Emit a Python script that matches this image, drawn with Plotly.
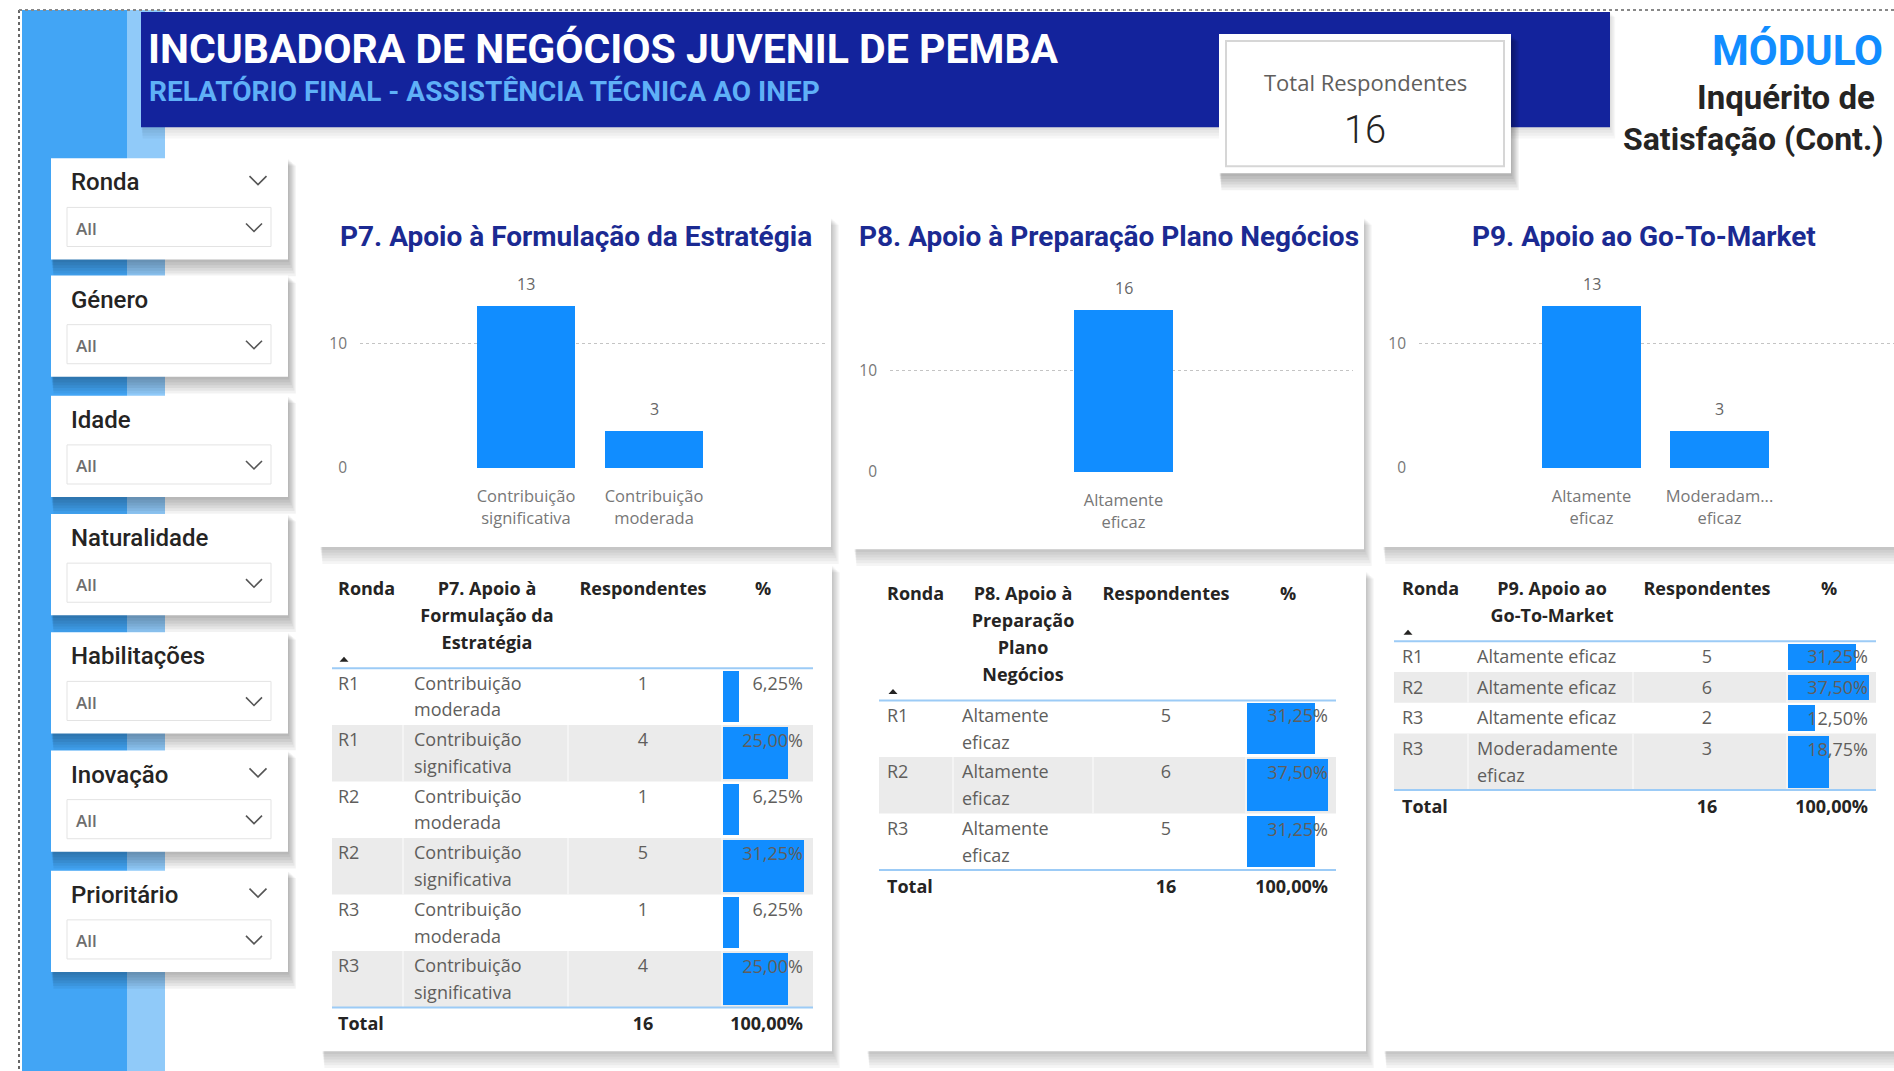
import plotly.graph_objects as go

W, H = 1894, 1071
# the photographed page comes out about 1.15 % shorter than the figure, so vertical
# positions are stretched by this factor to land where the reference has them
S = 1.0115

# ---------------- data ----------------
header_title = "INCUBADORA DE NEGÓCIOS JUVENIL DE PEMBA"
header_subtitle = "RELATÓRIO FINAL - ASSISTÊNCIA TÉCNICA AO INEP"
module_lines = ["MÓDULO", "Inquérito de", "Satisfação (Cont.)"]
kpi_label = "Total Respondentes"
kpi_value = 16

slicer_titles = ["Ronda", "Género", "Idade", "Naturalidade", "Habilitações", "Inovação", "Prioritário"]
slicer_has_title_chevron = [True, False, False, False, False, True, True]
slicer_value = "All"

p7_title = "P7. Apoio à Formulação da Estratégia"
p7_cats = ["Contribuição significativa", "Contribuição moderada"]
p7_ticks = ["Contribuição<br>significativa", "Contribuição<br>moderada"]
p7_vals = [13, 3]

p8_title = "P8. Apoio à Preparação Plano Negócios"
p8_cats = ["Altamente eficaz"]
p8_ticks = ["Altamente<br>eficaz"]
p8_vals = [16]

p9_title = "P9. Apoio ao Go-To-Market"
p9_cats = ["Altamente eficaz", "Moderadamente eficaz"]
p9_ticks = ["Altamente<br>eficaz", "Moderadam...<br>eficaz"]
p9_vals = [13, 3]

y_ticks = [0, 10]

t7_header = "P7. Apoio à Formulação da Estratégia"
t7_ronda = ["R1", "R1", "R2", "R2", "R3", "R3"]
t7_cat = ["Contribuição moderada", "Contribuição significativa", "Contribuição moderada",
          "Contribuição significativa", "Contribuição moderada", "Contribuição significativa"]
t7_resp = [1, 4, 1, 5, 1, 4]
t7_pct = [6.25, 25.00, 6.25, 31.25, 6.25, 25.00]

t8_header = "P8. Apoio à Preparação Plano Negócios"
t8_ronda = ["R1", "R2", "R3"]
t8_cat = ["Altamente eficaz", "Altamente eficaz", "Altamente eficaz"]
t8_resp = [5, 6, 5]
t8_pct = [31.25, 37.50, 31.25]

t9_header = "P9. Apoio ao Go-To-Market"
t9_ronda = ["R1", "R2", "R3", "R3"]
t9_cat = ["Altamente eficaz", "Altamente eficaz", "Altamente eficaz", "Moderadamente eficaz"]
t9_resp = [5, 6, 2, 3]
t9_pct = [31.25, 37.50, 12.50, 18.75]

col_names = ["Ronda", "Respondentes", "%"]
total_label = "Total"

# ---------------- styles ----------------
BLUE = "#118DFF"
NAVY = "#13239C"
TITLE_NAVY = "#1B2A92"
STRIPE = "#42A5F5"
STRIPE_LIGHT = "#90CAF9"
TXT_DARK = "#252423"
TXT_BODY = "#605E5C"
BODY_FONT = "Open Sans"
DIN = "Roboto"


def X(px):
    return px / W


def Y(py):
    return 1 - py * S / H


shapes = []
annotations = []
traces = []
layout_axes = {}


def rect(x0, y0, x1, y1, fill, line=None, lw=0):
    shapes.append(dict(type="rect", xref="paper", yref="paper",
                       x0=X(x0), x1=X(x1), y0=Y(y1), y1=Y(y0),
                       fillcolor=fill, line=dict(width=lw, color=line or "rgba(0,0,0,0)"),
                       layer="below"))


def hline(x0, x1, y, color, width=1, dash="solid"):
    shapes.append(dict(type="line", xref="paper", yref="paper", x0=X(x0), x1=X(x1), y0=Y(y), y1=Y(y),
                       line=dict(color=color, width=width, dash=dash), layer="below"))


def vline(x, y0, y1, color, width=1, dash="solid"):
    shapes.append(dict(type="line", xref="paper", yref="paper", x0=X(x), x1=X(x), y0=Y(y0), y1=Y(y1),
                       line=dict(color=color, width=width, dash=dash), layer="below"))


def shadow(x0, y0, x1, y1, alpha=0.045, n=6):
    for k in range(1, n + 1):
        rect(x0 - 0.4 * k + 0.8 * k, y0 + 1.2 * k, x1 + 1.3 * k, y1 + 2.8 * k, f"rgba(0,0,0,{alpha})")


def card(x0, y0, x1, y1, alpha=0.045):
    shadow(x0, y0, x1, y1, alpha)
    rect(x0, y0, x1, y1, "white")


def chevron(cx, cy, w, h, color="#555", lw=1.6):
    path = f"M {X(cx - w / 2)},{Y(cy - h / 2)} L {X(cx)},{Y(cy + h / 2)} L {X(cx + w / 2)},{Y(cy - h / 2)}"
    shapes.append(dict(type="path", xref="paper", yref="paper", path=path,
                       line=dict(color=color, width=lw), layer="below"))


def tri_up(cx, cy, w=9, h=5, color=TXT_DARK):
    path = (f"M {X(cx - w / 2)},{Y(cy + h / 2)} L {X(cx + w / 2)},{Y(cy + h / 2)} "
            f"L {X(cx)},{Y(cy - h / 2)} Z")
    shapes.append(dict(type="path", xref="paper", yref="paper", path=path,
                       fillcolor=color, line=dict(width=0), layer="below"))


def ann(x, y, text, size, color, family=BODY_FONT, xanchor="left", yanchor="middle", weight=None):
    f = dict(size=size, color=color, family=family)
    if weight is not None:
        f["weight"] = weight
    annotations.append(dict(xref="paper", yref="paper", x=X(x), y=Y(y), text=text, showarrow=False,
                            xanchor=xanchor, yanchor=yanchor, font=f, borderpad=0))


def wrap(s, n):
    lines, cur = [], ""
    for w in s.split(" "):
        if cur and len(cur) + 1 + len(w) > n:
            lines.append(cur)
            cur = w
        else:
            cur = (cur + " " + w) if cur else w
    lines.append(cur)
    return lines


def fmt_pct(v):
    return f"{v:.2f}".replace(".", ",") + "%"


# ---------------- page background ----------------
rect(22, 10, 127, H + 20, STRIPE)
rect(127, 10, 165, H + 20, STRIPE_LIGHT)
vline(19, 10, H + 20, "#666", 2, "dot")
hline(19, W + 5, 10, "#888", 2, "dot")

# header band
shadow(141, 12, 1610, 127, 0.03, 4)
rect(141, 12, 1610, 127, NAVY)
ann(147, 49, f"<b>{header_title}</b>", 41, "white", DIN)
ann(148, 91, f"<b>{header_subtitle}</b>", 28, "#5FB0F7", DIN)

# KPI card
card(1219, 34, 1511, 173, 0.055)
rect(1226, 41, 1504, 166, "rgba(0,0,0,0)", "#D6D6D6", 2)
ann(1365, 82, kpi_label, 22, TXT_BODY, BODY_FONT, "center")
ann(1365, 130, str(kpi_value), 38, TXT_DARK, DIN, "center", weight=300)

# module text
ann(1884, 50, f"<b>{module_lines[0]}</b>", 42, BLUE, DIN, "right")
ann(1876, 97, f"<b>{module_lines[1]}</b>", 33, TXT_DARK, DIN, "right")
ann(1884, 139, f"<b>{module_lines[2]}</b>", 32, TXT_DARK, DIN, "right")

# ---------------- slicers ----------------
slicer_tops = [158, 275, 395, 513, 631, 749, 869]
sx0, sw, sh = 51, 237, 101
for name, top, chev in zip(slicer_titles, slicer_tops, slicer_has_title_chevron):
    card(sx0, top, sx0 + sw, top + sh, 0.05)
    ann(sx0 + 19, top + 24, name, 24, TXT_DARK, DIN, weight=500)
    if chev:
        chevron(sx0 + 207, top + 22, 17, 8.5)
    rect(sx0 + 16, top + 49, sx0 + 220, top + 88, "white", "#E3E3E3", 1)
    ann(sx0 + 24, top + 70, slicer_value, 17, "#6E6E6E", BODY_FONT, weight=600)
    chevron(sx0 + 203, top + 69, 16, 8)

# ---------------- bar charts ----------------
charts = [
    dict(n="", title=p7_title, cats=p7_cats, ticks=p7_ticks, vals=p7_vals,
         card=(320, 217, 831, 546), zero=467, unit=12.4, top=268, x0=360, x1=825, cat0=526),
    dict(n="2", title=p8_title, cats=p8_cats, ticks=p8_ticks, vals=p8_vals,
         card=(854, 217, 1364, 548), zero=471, unit=10.1, top=268, x0=890, x1=1353, cat0=1123.5),
    dict(n="3", title=p9_title, cats=p9_cats, ticks=p9_ticks, vals=p9_vals,
         card=(1383, 217, 1905, 546), zero=467, unit=12.4, top=268, x0=1419, x1=1894, cat0=1591.5),
]
STEP = 128
for c in charts:
    cx0, cy0, cx1, cy1 = c["card"]
    card(cx0, cy0, cx1, cy1, 0.04)
    ann((cx0 + cx1) / 2, 236, f"<b>{c['title']}</b>", 28, TITLE_NAVY, DIN, "center")
    ymin = -0.08
    bottom_px = c["zero"] - ymin * c["unit"]
    ymax = (c["zero"] - c["top"]) / c["unit"]
    xa, ya = "xaxis" + c["n"], "yaxis" + c["n"]
    xr, yr = "x" + c["n"], "y" + c["n"]
    layout_axes[xa] = dict(domain=[X(c["x0"]), X(c["x1"])], anchor=yr, type="category",
                           range=[-(c["cat0"] - c["x0"]) / STEP, (c["x1"] - c["cat0"]) / STEP],
                           tickvals=c["cats"], ticktext=c["ticks"], showgrid=False, zeroline=False,
                           showline=False, ticks="", ticklabelstandoff=16,
                           tickfont=dict(size=16.5, color="#777", family=BODY_FONT), fixedrange=True)
    layout_axes[ya] = dict(domain=[Y(bottom_px), Y(c["top"])], anchor=xr, range=[ymin, ymax],
                           tickvals=y_ticks, showgrid=True, gridcolor="#C4C4C4", griddash="dot",
                           gridwidth=1.3, zeroline=False, showline=False, ticks="",
                           ticklabelstandoff=12, tickfont=dict(size=15.5, color="#777", family=BODY_FONT),
                           fixedrange=True)
    traces.append(go.Bar(x=c["cats"], y=c["vals"], xaxis=xr, yaxis=yr, width=0.77,
                         marker=dict(color=BLUE, line=dict(width=0)),
                         hoverinfo="skip", showlegend=False))
    for cat, v in zip(c["cats"], c["vals"]):
        annotations.append(dict(xref=xr, yref=yr, x=cat, y=v, text=str(v), showarrow=False,
                                yanchor="bottom", xanchor="center", yshift=9,
                                font=dict(size=16, color="#666", family=BODY_FONT)))

# ---------------- tables ----------------
layout_axes["xaxis4"] = dict(domain=[0, 1], range=[0, W], visible=False, anchor="y4", fixedrange=True)
layout_axes["yaxis4"] = dict(domain=[0, 1], range=[H / S, 0], visible=False, anchor="x4", fixedrange=True)


def text_trace(xs, ys, texts, pos, size, color, bold=False, xaxis="x4"):
    return go.Scatter(x=xs, y=ys, text=texts, mode="text", textposition=pos,
                      textfont=dict(size=size, color=color, family=BODY_FONT,
                                    weight="bold" if bold else "normal"),
                      xaxis=xaxis, yaxis="y4", hoverinfo="skip", showlegend=False, cliponaxis=False)


tables = [
    dict(ax="5", header=t7_header, ronda=t7_ronda, cat=t7_cat, resp=t7_resp, pct=t7_pct,
         card=(322, 564, 832, 1049), hdr_y=589, ronda_x=338, cat_x=414, cat_hdr_x=487, resp_x=643,
         pct_hdr_x=763, pct_r=803, bar_x0=723, bar_w=81, band=(332, 813), seps=(403, 568),
         hwrap=14, bwrap=14),
    dict(ax="6", header=t8_header, ronda=t8_ronda, cat=t8_cat, resp=t8_resp, pct=t8_pct,
         card=(867, 570, 1366, 1049), hdr_y=594, ronda_x=887, cat_x=962, cat_hdr_x=1023, resp_x=1166,
         pct_hdr_x=1288, pct_r=1328, bar_x0=1247, bar_w=81, band=(879, 1336), seps=(953, 1093),
         hwrap=12, bwrap=12),
    dict(ax="7", header=t9_header, ronda=t9_ronda, cat=t9_cat, resp=t9_resp, pct=t9_pct,
         card=(1384, 566, 1905, 1049), hdr_y=589, ronda_x=1402, cat_x=1477, cat_hdr_x=1552, resp_x=1707,
         pct_hdr_x=1829, pct_r=1868, bar_x0=1788, bar_w=81, band=(1394, 1876), seps=(1468, 1633),
         hwrap=17, bwrap=17),
]
FS = 18
LINE = 26.5
for t in tables:
    x0, y0, x1, y1 = t["card"]
    card(x0, y0, x1, y1, 0.04)
    hl_lines = wrap(t["header"], t["hwrap"])
    hy = t["hdr_y"]
    hl = hy + 27 * (len(hl_lines) - 1) + 24
    # header texts
    hx = [t["ronda_x"]] + [t["cat_hdr_x"]] * len(hl_lines) + [t["resp_x"], t["pct_hdr_x"]]
    hyv = [hy] + [hy + 27 * i for i in range(len(hl_lines))] + [hy, hy]
    htxt = [col_names[0]] + hl_lines + [col_names[1], col_names[2]]
    hpos = ["middle right"] + ["middle center"] * (len(hl_lines) + 2)
    traces.append(text_trace(hx, hyv, htxt, hpos, FS, TXT_DARK, bold=True))
    tri_up(t["ronda_x"] + 6, hl - 9)

    # rows
    top = hl
    bx, by, bt, bp = [], [], [], []
    row_centers, row_heights = [], []
    for i, (r, cat, n) in enumerate(zip(t["ronda"], t["cat"], t["resp"])):
        lines = wrap(cat, t["bwrap"])
        h = 5 + 25.7 * len(lines)
        if i % 2 == 1:
            rect(t["band"][0], top, t["band"][1], top + h, "#EBEBEB")
            for sx in t["seps"] + (t["bar_x0"] - 1,):
                vline(sx, top, top + h, "#F7F7F7", 1.5)
        first = top + 17
        bx += [t["ronda_x"]]
        by += [first]
        bt += [r]
        bp += ["middle right"]
        for j, ln in enumerate(lines):
            bx.append(t["cat_x"])
            by.append(first + LINE * j)
            bt.append(ln)
            bp.append("middle right")
        bx.append(t["resp_x"])
        by.append(first)
        bt.append(str(n))
        bp.append("middle center")
        row_centers.append(top + h / 2)
        row_heights.append(h - 5)
        top += h
    traces.append(text_trace(bx, by, bt, bp, FS, TXT_BODY))
    fl = top
    hline(t["band"][0], t["band"][1], hl, "#9CCBF6", 2)
    hline(t["band"][0], t["band"][1], fl, "#9CCBF6", 2)

    # data bars on a percentage axis sharing the table rows
    xb = "x" + t["ax"]
    pmax = max(t["pct"])
    layout_axes["xaxis" + t["ax"]] = dict(domain=[X(t["bar_x0"]), X(t["bar_x0"] + t["bar_w"])],
                                          range=[0, pmax], visible=False, anchor="y4", fixedrange=True)
    traces.append(go.Bar(x=t["pct"], y=row_centers, width=row_heights, base=0, orientation="h",
                         xaxis=xb, yaxis="y4", marker=dict(color=BLUE, line=dict(width=0)),
                         hoverinfo="skip", showlegend=False))
    xr_pct = (t["pct_r"] - t["bar_x0"]) / t["bar_w"] * pmax
    pct_y = [c - h / 2 + 15 for c, h in zip(row_centers, row_heights)]
    traces.append(text_trace([xr_pct] * len(t["pct"]), pct_y, [fmt_pct(v) for v in t["pct"]],
                             "middle left", FS, TXT_BODY, xaxis=xb))
    # total row
    ty = fl + 18
    traces.append(text_trace([t["ronda_x"], t["resp_x"]], [ty, ty],
                             [total_label, str(sum(t["resp"]))],
                             ["middle right", "middle center"], FS, TXT_DARK, bold=True))
    traces.append(text_trace([xr_pct], [ty], [fmt_pct(sum(t["pct"]))], "middle left", FS, TXT_DARK,
                             bold=True, xaxis=xb))

fig = go.Figure(data=traces)
fig.update_layout(width=W, height=H, margin=dict(l=0, r=0, t=0, b=0, pad=0),
                  paper_bgcolor="white", plot_bgcolor="rgba(0,0,0,0)",
                  showlegend=False, hovermode=False, bargap=0,
                  shapes=shapes, annotations=annotations, **layout_axes)

fig.write_html(
    "out.html", config=dict(displayModeBar=False, staticPlot=True),
    post_script=("document.documentElement.style.margin='0';document.body.style.margin='0';"
                 "document.documentElement.style.overflow='hidden';document.body.style.overflow='hidden';"))
